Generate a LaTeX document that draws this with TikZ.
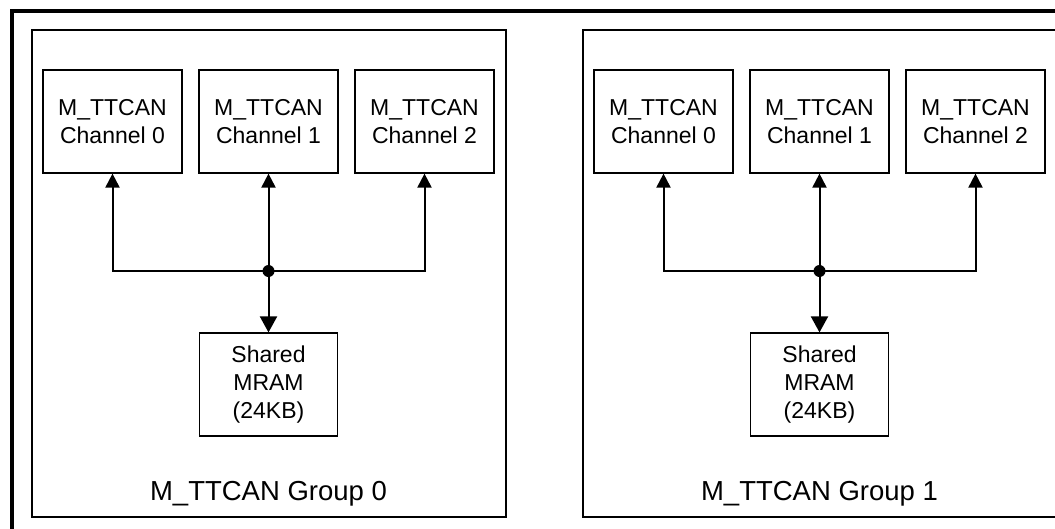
\documentclass[tikz,border=0pt]{standalone}
\usepackage{fontspec}
\setmainfont{Liberation Sans}
\usetikzlibrary{arrows.meta}
\tikzset{
  chanbox/.style={draw, line width=1.2pt, minimum width=139pt, minimum height=103pt, inner sep=0pt, align=center, font=\fontsize{23}{28}\selectfont},
  grpbox/.style={draw, line width=2pt},
  conn/.style={line width=2pt},
  arr/.style={conn, -{Triangle[length=14pt,width=14pt]}},
  bigarr/.style={conn, -{Triangle[length=16pt,width=17pt]}},
  grplabel/.style={font=\fontsize{27.5}{33}\selectfont, anchor=base, inner sep=0pt},
  junction/.style={circle, fill=black, inner sep=0pt, minimum size=12pt}
}
\begin{document}
\begin{tikzpicture}[x=1pt,y=-1pt]
\useasboundingbox (0,0) rectangle (1055,528);
\clip (0,0) rectangle (1055,528);
\fill[white] (0,0) rectangle (1055,528);
\draw[line width=4pt] (11.5,10.5) rectangle (1080,545);
\foreach \g/\dx in {0/0,1/551}{
  \begin{scope}[xshift=\dx pt]
    \draw[grpbox] (31.5,29.5) rectangle (505.5,516.5);
    \node[chanbox] (ch0-\g) at (112.5,121.5) {M\_TTCAN\\Channel 0};
    \node[chanbox] (ch1-\g) at (268.5,121.5) {M\_TTCAN\\Channel 1};
    \node[chanbox] (ch2-\g) at (424.5,121.5) {M\_TTCAN\\Channel 2};
    \node[chanbox, minimum width=138pt] (mram-\g) at (268.5,384.5) {Shared\\MRAM\\(24KB)};
    \coordinate (bus-\g) at (268.5,271);
    \draw[arr] (bus-\g) -| (ch0-\g.south);
    \draw[arr] (bus-\g) -| (ch2-\g.south);
    \draw[arr] (bus-\g) -- (ch1-\g.south);
    \draw[bigarr] (bus-\g) -- (mram-\g.north);
    \node[junction] (dot-\g) at (bus-\g) {};
    \node[grplabel] (lbl-\g) at (268.5,500) {M\_TTCAN Group \g};
  \end{scope}
}
\end{tikzpicture}
\end{document}
